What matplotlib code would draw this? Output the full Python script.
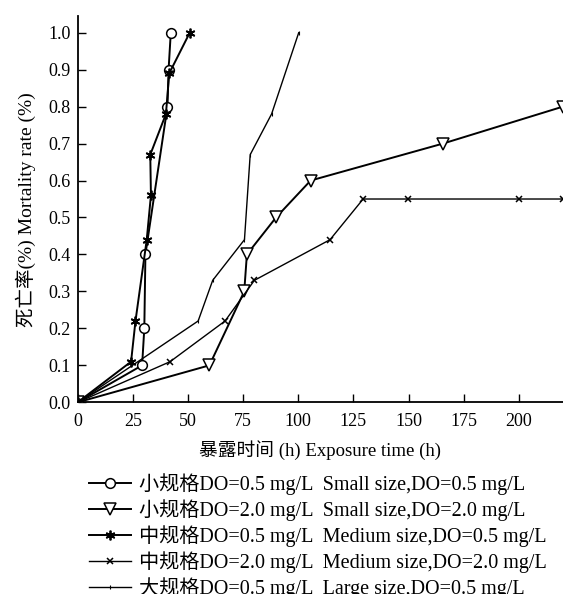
import matplotlib
matplotlib.use("Agg")
import matplotlib.pyplot as plt

plt.rcParams['font.family'] = ['Liberation Serif', 'Noto Sans CJK SC']
plt.rcParams['axes.unicode_minus'] = False

# small size, DO=0.5
x_s05 = [0, 29.2, 30.2, 30.7, 40.7, 41.2, 42.2]
y_s05 = [0, 0.10, 0.20, 0.40, 0.80, 0.90, 1.00]
# small size, DO=2.0
x_s20 = [0, 59.7, 75.5, 76.7, 89.9, 105.6, 165.6, 220]
y_s20 = [0, 0.10, 0.30, 0.40, 0.50, 0.60, 0.70, 0.80]
# medium size, DO=0.5
x_m05 = [0, 24.2, 26.2, 31.3, 33.2, 32.9, 40.0, 41.5, 50.8]
y_m05 = [0, 0.11, 0.22, 0.44, 0.56, 0.67, 0.78, 0.89, 1.00]
# medium size, DO=2.0
x_m20 = [0, 41.9, 66.8, 80.1, 114.4, 129.4, 149.8, 200, 220]
y_m20 = [0, 0.11, 0.22, 0.33, 0.44, 0.55, 0.55, 0.55, 0.55]
# large size, DO=0.5
x_l05 = [0, 54.6, 61.2, 75.6, 78.2, 87.9, 100.2]
y_l05 = [0, 0.22, 0.33, 0.44, 0.67, 0.78, 1.00]

labels = [
    '小规格DO=0.5 mg/L  Small size,DO=0.5 mg/L',
    '小规格DO=2.0 mg/L  Small size,DO=2.0 mg/L',
    '中规格DO=0.5 mg/L  Medium size,DO=0.5 mg/L',
    '中规格DO=2.0 mg/L  Medium size,DO=2.0 mg/L',
    '大规格DO=0.5 mg/L  Large size,DO=0.5 mg/L',
]
xticks = [0, 25, 50, 75, 100, 125, 150, 175, 200]
yticks = [0.0, 0.1, 0.2, 0.3, 0.4, 0.5, 0.6, 0.7, 0.8, 0.9, 1.0]

fig = plt.figure(figsize=(5.63, 5.94), dpi=100)
ax = fig.add_axes([0.138, 0.3227, 0.862, 0.6503])

ax.plot(x_s05, y_s05, color='black', lw=1.4, marker='o', ms=7,
        mfc='white', mec='black', mew=1.1, label=labels[0])
ax.plot(x_s20, y_s20, color='black', lw=1.4, marker='v', ms=8,
        mfc='white', mec='black', mew=1.1, label=labels[1])
ax.plot(x_m05, y_m05, color='black', lw=1.4, marker=(6, 2, 0), ms=7,
        mec='black', mew=1.3, label=labels[2])
ax.plot(x_m20, y_m20, color='black', lw=1.0, marker='x', ms=5,
        mec='black', mew=1.1, label=labels[3])
ax.plot(x_l05, y_l05, color='black', lw=1.0, marker='|', ms=3,
        mec='black', mew=0.8, label=labels[4])

ax.set_xlim(0, 220)
ax.set_ylim(0, 1.045)
ax.set_xticks(xticks)
ax.set_yticks(yticks)
ax.set_yticklabels([f'{v:.1f}' for v in yticks])
ax.spines['top'].set_visible(False)
ax.spines['right'].set_visible(False)
ax.spines['left'].set_linewidth(1.3)
ax.spines['bottom'].set_linewidth(1.3)
ax.tick_params(direction='in', length=6, width=1, labelsize=13)
ax.tick_params(axis='x', pad=8)
ax.tick_params(axis='y', pad=5)

ax.set_xlabel('暴露时间 (h) Exposure time (h)', fontsize=13.5, labelpad=7)
ax.set_ylabel('死亡率(%) Mortality rate (%)', fontsize=14, labelpad=9)

ax.legend(loc='upper left', bbox_to_anchor=(0.158, 0.203), bbox_transform=fig.transFigure,
          frameon=False, fontsize=14.5, handlelength=2.1, handletextpad=0.4,
          labelspacing=0.2, borderaxespad=0, borderpad=0)

fig.savefig('out.png', dpi=100)
